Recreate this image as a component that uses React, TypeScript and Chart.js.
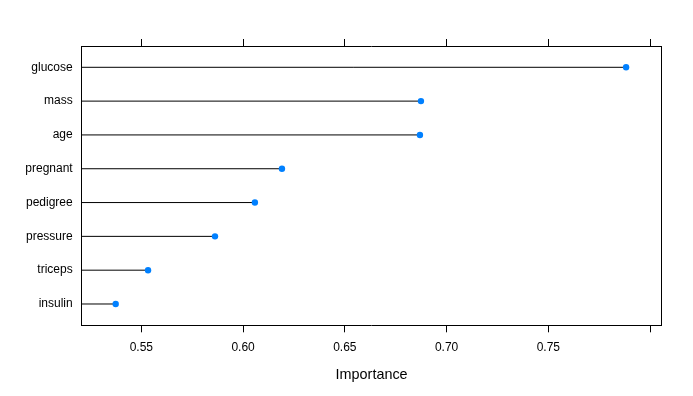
import React, { useEffect, useRef } from "react";
import { Chart, registerables } from "chart.js";

Chart.register(...registerables);

const CATEGORIES = ["glucose", "mass", "age", "pregnant", "pedigree", "pressure", "triceps", "insulin"];
const IMPORTANCE = [0.7882, 0.6874, 0.6869, 0.6191, 0.6058, 0.5862, 0.5533, 0.5374];
const X_TICKS = [0.55, 0.6, 0.65, 0.7, 0.75, 0.8];
const X_TICK_LABELS = ["0.55", "0.60", "0.65", "0.70", "0.75", ""];
const AXIS_MIN = 0.5207;
const AXIS_MAX = 0.8056;
const Y_MIN = -0.63;
const Y_MAX = 7.63;
const X_TITLE = "Importance";

const FONT = "'Liberation Sans', Arial, Helvetica, sans-serif";

export default function App() {
  const ref = useRef<HTMLCanvasElement | null>(null);

  useEffect(() => {
    if (!ref.current) return;
    document.body.style.margin = "0";

    const lineSets = CATEGORIES.map((c, i) => ({
      type: "scatter" as const,
      label: c,
      data: [
        { x: AXIS_MIN, y: i },
        { x: IMPORTANCE[i], y: i },
      ],
      showLine: true,
      borderColor: "#000000",
      borderWidth: 1,
      pointRadius: 0,
      order: 2,
      xAxisID: "x",
      yAxisID: "y",
    }));

    const pointSet = {
      type: "scatter" as const,
      label: "points",
      data: CATEGORIES.map((c, i) => ({ x: IMPORTANCE[i], y: i })),
      pointStyle: "circle",
      pointRadius: 3.2,
      backgroundColor: "#0080FF",
      borderColor: "#0080FF",
      borderWidth: 0,
      showLine: false,
      order: 0,
      xAxisID: "x",
      yAxisID: "y",
    };

    const chart = new Chart(ref.current, {
      type: "scatter",
      data: { datasets: [...lineSets, pointSet] as any },
      options: {
        animation: false,
        responsive: false,
        devicePixelRatio: 1,
        layout: { padding: 0 },
        plugins: { legend: { display: false }, tooltip: { enabled: false } },
        font: { family: FONT },
        scales: {
          x: {
            type: "linear",
            position: "bottom",
            min: AXIS_MIN,
            max: AXIS_MAX,
            afterBuildTicks: (axis: any) => {
              axis.ticks = X_TICKS.map((v) => ({ value: v }));
            },
            afterFit: (axis: any) => {
              axis.height = 70.7;
            },
            ticks: {
              color: "#000",
              font: { family: FONT, size: 12 },
              padding: 8,
              maxRotation: 0,
              autoSkip: false,
              callback: (_v: any, i: number) => X_TICK_LABELS[i],
            },
            grid: {
              display: true,
              drawOnChartArea: false,
              drawTicks: true,
              tickLength: 7,
              color: "#000",
              lineWidth: 1,
            },
            border: { display: true, color: "#000", width: 1 },
            title: {
              display: true,
              text: X_TITLE,
              color: "#000",
              font: { family: FONT, size: 14.4 },
              padding: { top: 4, bottom: 12 },
            },
          },
          x2: {
            type: "linear",
            position: "top",
            min: AXIS_MIN,
            max: AXIS_MAX,
            afterBuildTicks: (axis: any) => {
              axis.ticks = X_TICKS.map((v) => ({ value: v }));
            },
            afterFit: (axis: any) => {
              axis.height = 46;
            },
            ticks: { display: false },
            grid: {
              display: true,
              drawOnChartArea: false,
              drawTicks: true,
              tickLength: 7,
              color: "#000",
              lineWidth: 1,
            },
            border: { display: true, color: "#000", width: 1 },
          },
          y: {
            type: "linear",
            position: "left",
            min: Y_MIN,
            max: Y_MAX,
            reverse: true,
            afterBuildTicks: (axis: any) => {
              axis.ticks = CATEGORIES.map((_c, i) => ({ value: i }));
            },
            afterFit: (axis: any) => {
              axis.width = 81.7;
            },
            ticks: {
              color: "#000",
              font: { family: FONT, size: 12 },
              padding: 9,
              autoSkip: false,
              callback: (_v: any, i: number) => CATEGORIES[i],
            },
            grid: { display: false, drawTicks: false },
            border: { display: true, color: "#000", width: 1 },
          },
          y2: {
            type: "linear",
            position: "right",
            min: 0,
            max: 1,
            afterFit: (axis: any) => {
              axis.width = 693 - 661.5;
            },
            ticks: { display: false },
            grid: { display: false, drawTicks: false },
            border: { display: true, color: "#000", width: 1 },
          },
        },
      } as any,
    });

    return () => chart.destroy();
  }, []);

  return (
    <div style={{ position: "absolute", left: 0, top: 0, width: 693, height: 396, background: "#fff" }}>
      <canvas ref={ref} width={693} height={396} style={{ width: 693, height: 396, display: "block" }} />
    </div>
  );
}
